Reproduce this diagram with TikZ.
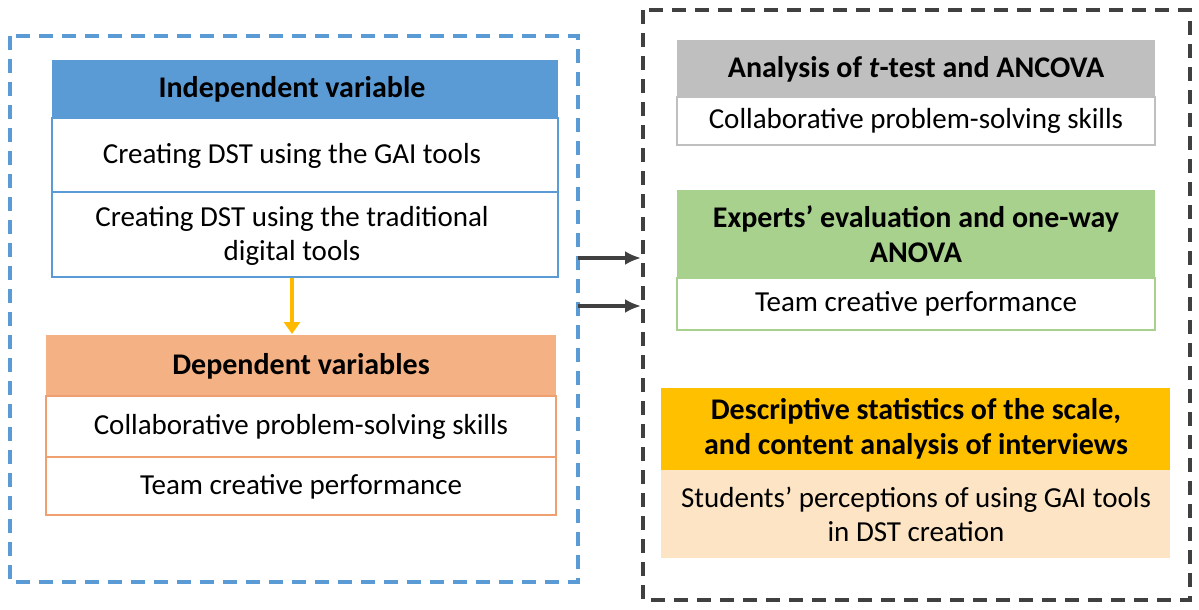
\documentclass[tikz,border=0pt]{standalone}
\usepackage{fontspec}
\setmainfont{Carlito}
\usetikzlibrary{arrows.meta}
\definecolor{bl}{HTML}{5B9BD5}
\definecolor{og}{HTML}{F4B183}
\definecolor{ogd}{HTML}{F0A070}
\definecolor{gr}{HTML}{BFBFBF}
\definecolor{gn}{HTML}{A9D18E}
\definecolor{yl}{HTML}{FFC000}
\definecolor{pc}{HTML}{FCE4C4}
\definecolor{dk}{HTML}{404040}
\begin{document}
\begin{tikzpicture}[x=1pt,y=-1pt,
 txt/.style={font=\fontsize{29}{34}\selectfont,align=center},
 hd/.style={font=\fontsize{30}{35}\selectfont\bfseries,align=center},
 arr/.style={-{Latex[length=16pt,width=14pt]},line width=4.5pt}]
\useasboundingbox (0,0) rectangle (1199,610);
% left group
\draw[bl,dashed,line width=3.5pt,dash pattern=on 14pt off 9pt] (10,36) rectangle (578,582);
\path[fill=bl] (52,60) rectangle (558,118);
\draw[bl,line width=1.5pt] (52,118) rectangle (558,277) (52,192) -- (558,192);
\node[hd] (iv) at (292,89) {Independent variable};
\node[txt] (iv1) at (292,156) {Creating DST using the GAI tools};
\node[txt] (iv2) at (292,236) {Creating DST using the traditional\\digital tools};
\path[fill=og] (46,335) rectangle (556,396);
\draw[ogd,line width=1.5pt] (46,396) rectangle (556,515) (46,457) -- (556,457);
\node[hd] (dv) at (301,366) {Dependent variables};
\node[txt] (dv1) at (301,427) {Collaborative problem-solving skills};
\node[txt] (dv2) at (301,487) {Team creative performance};
\coordinate (a0) at (292,278);
\coordinate (a1) at (292,334);
\draw[-{Triangle[length=12pt,width=16pt]},yl!90!orange,line width=3.5pt] (a0) -- (a1);
% right group
\draw[dk,dashed,line width=3.5pt,dash pattern=on 14pt off 9pt] (643,10) rectangle (1190,600);
\path[fill=gr] (677,40) rectangle (1155,97);
\draw[gr,line width=1.5pt] (677,97) rectangle (1155,145);
\node[hd] (g) at (916,69) {Analysis of \textit{t}-test and ANCOVA};
\node[txt] (g1) at (916,121) {Collaborative problem-solving skills};
\path[fill=gn] (677,190) rectangle (1155,278);
\draw[gn,line width=1.5pt] (677,278) rectangle (1155,330);
\node[hd] (n) at (916,234) {Experts’ evaluation and one-way\\ANOVA};
\node[txt] (n1) at (916,304) {Team creative performance};
\path[fill=yl] (661,388) rectangle (1170,470);
\path[fill=pc] (661,470) rectangle (1170,558);
\node[hd] (y) at (916,429) {Descriptive statistics of the scale,\\and content analysis of interviews};
\node[txt] (y1) at (916,514) {Students’ perceptions of using GAI tools\\in DST creation};
\coordinate (b0) at (578,258); \coordinate (b1) at (641,258);
\coordinate (c0) at (578,306); \coordinate (c1) at (641,306);
\draw[arr,dk] (b0) -- (b1);
\draw[arr,dk] (c0) -- (c1);
\end{tikzpicture}
\end{document}
